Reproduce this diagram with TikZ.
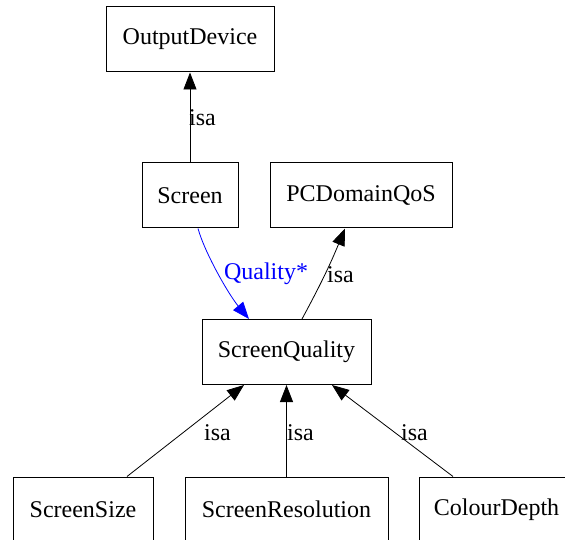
\documentclass[tikz,border=0pt]{standalone}
\usepackage{fontspec}
\setmainfont{Liberation Serif}
\usetikzlibrary{arrows.meta}

\begin{document}
\begin{tikzpicture}[x=1pt, y=1pt,
  >={Triangle[length=17pt, width=13pt]},
  box/.style={draw, line width=1pt, rectangle, inner sep=0pt, minimum height=65pt},
  isa/.style={->, line width=0.8pt},
  quality/.style={->, blue, line width=0.8pt},
  tag/.style={anchor=west, inner sep=0pt}]

\useasboundingbox (0,0) rectangle (565,539);
\clip (0,0) rectangle (565,539);
\fontsize{24}{28}\selectfont

\def \row {29.5} % bottom row, half cut off by the page

\node[box, minimum width=168pt] (OutputDevice) at (190,499.5) {OutputDevice};
\node[box, minimum width=96pt] (Screen) at (190,343.5) {Screen};
\node[box, minimum width=182pt] (PCDomainQoS) at (361,343.5) {PCDomainQoS};
\node[box, minimum width=169pt] (ScreenQuality) at (286.5,187) {ScreenQuality};
\node[box, minimum width=140pt] (ScreenSize) at (83,\row) {ScreenSize};
\node[box, minimum width=203pt] (ScreenResolution) at (286.5,\row) {ScreenResolution};
\node[box, minimum width=155pt] (ColourDepth) at (496.5,\row) {ColourDepth};

\draw[isa] (Screen.north) -- (OutputDevice.south);
\node[tag] (isaTop) at (189,421) {isa};

\draw[quality] ([xshift=8pt]Screen.south)
  .. controls +(7,-25) and +(-20,24) .. ([xshift=-37.5pt]ScreenQuality.north)
  node[pos=0.5, anchor=west, inner sep=5pt, text=blue] (qualityTag) {Quality*};

\draw[isa] ([xshift=15.5pt]ScreenQuality.north) to[bend right=3] ([xshift=-16pt]PCDomainQoS.south);
\node[tag] (isaQoS) at (327,264) {isa};

\draw[isa] ([xshift=44pt]ScreenSize.north) -- ([xshift=-42.5pt]ScreenQuality.south);
\draw[isa] (ScreenResolution.north) -- (ScreenQuality.south);
\draw[isa] ([xshift=-43.5pt]ColourDepth.north) -- ([xshift=45.5pt]ScreenQuality.south);
\node[tag] (isaSize) at (204,106) {isa};
\node[tag] (isaRes) at (287,106) {isa};
\node[tag] (isaDepth) at (401,106) {isa};
\end{tikzpicture}
\end{document}
